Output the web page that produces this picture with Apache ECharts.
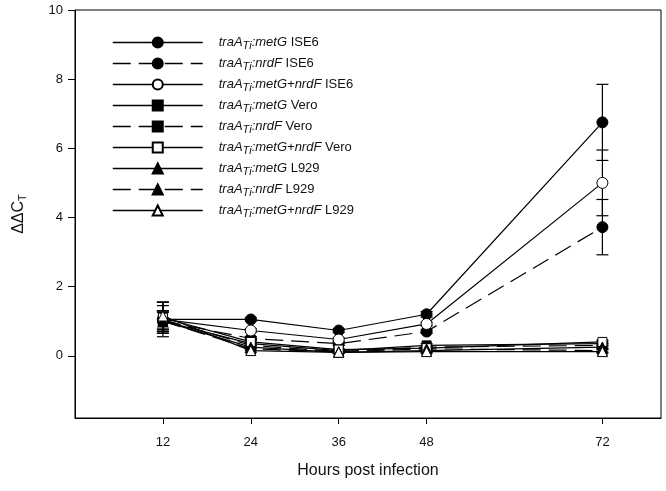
<!DOCTYPE html>
<html><head><meta charset="utf-8">
<script src="https://cdn.jsdelivr.net/npm/echarts@6/dist/echarts.min.js"></script>
<style>html,body{margin:0;padding:0;background:#fff}#c{width:666px;height:491px}</style>
</head><body><div id="c"></div>
<script>
// ---- data ----
const hours = [12, 24, 36, 48, 72];
const xTicks = [12, 24, 36, 48, 72];
const yTicks = [0, 2, 4, 6, 8, 10];
const genes = ['metG', 'nrdF', 'metG+nrdF', 'metG', 'nrdF', 'metG+nrdF', 'metG', 'nrdF', 'metG+nrdF'];
const cells = ['ISE6', 'ISE6', 'ISE6', 'Vero', 'Vero', 'Vero', 'L929', 'L929', 'L929'];

const metgISE6  = [1.05, 1.05, 0.73, 1.20, 6.75];
const nrdfISE6  = [1.00, 0.50, 0.35, 0.70, 3.72];
const comboISE6 = [1.05, 0.73, 0.47, 0.92, 5.00];
const metgVero  = [1.00, 0.35, 0.15, 0.30, 0.35];
const nrdfVero  = [1.05, 0.30, 0.12, 0.25, 0.30];
const comboVero = [1.10, 0.40, 0.18, 0.22, 0.40];
const metgL929  = [1.00, 0.25, 0.10, 0.15, 0.25];
const nrdfL929  = [1.00, 0.20, 0.12, 0.20, 0.15];
const comboL929 = [1.15, 0.15, 0.10, 0.12, 0.12];

const errMetgISE6  = [0.40, 0.05, 0.05, 0.08, 1.10];
const errNrdfISE6  = [0.30, 0.05, 0.05, 0.05, 0.80];
const errComboISE6 = [0.50, 0.05, 0.05, 0.05, 0.95];
const errMetgVero  = [0.30, 0.05, 0.03, 0.05, 0.05];
const errNrdfVero  = [0.25, 0.05, 0.03, 0.05, 0.05];
const errComboVero = [0.45, 0.05, 0.03, 0.05, 0.05];
const errMetgL929  = [0.30, 0.05, 0.03, 0.05, 0.05];
const errNrdfL929  = [0.25, 0.05, 0.03, 0.05, 0.05];
const errComboL929 = [0.40, 0.05, 0.03, 0.05, 0.05];

const values = [metgISE6, nrdfISE6, comboISE6, metgVero, nrdfVero, comboVero, metgL929, nrdfL929, comboL929];
const errors = [errMetgISE6, errNrdfISE6, errComboISE6, errMetgVero, errNrdfVero, errComboVero, errMetgL929, errNrdfL929, errComboL929];

// ---- styles ----
const styles = [
  {symbol: 'circle', fill: true, dash: false, size: 11},
  {symbol: 'circle', fill: true, dash: true, size: 11},
  {symbol: 'circle', fill: false, dash: false, size: 11},
  {symbol: 'rect', fill: true, dash: false, size: 9},
  {symbol: 'rect', fill: true, dash: true, size: 9},
  {symbol: 'rect', fill: false, dash: false, size: 9},
  {symbol: 'triangle', fill: true, dash: false, size: 10},
  {symbol: 'triangle', fill: true, dash: true, size: 10},
  {symbol: 'triangle', fill: false, dash: false, size: 10}
];

const names = genes.map((g, i) => 'traA Ti:' + g + ' ' + cells[i]);
const FONT = '"Liberation Sans", Arial, sans-serif';

const series = [];
values.forEach((vals, i) => {
  const s = styles[i];
  series.push({
    name: names[i],
    type: 'line',
    data: hours.map((h, k) => [h, vals[k]]),
    symbol: s.symbol,
    symbolSize: s.size,
    z: 3,
    lineStyle: {color: '#000', width: 1.2, type: s.dash ? [18, 8] : 'solid'},
    itemStyle: {color: s.fill ? '#000' : '#fff', borderColor: '#000', borderWidth: 1, opacity: 1},
    emphasis: {disabled: true},
    animation: false
  });
});
values.forEach((vals, i) => {
  const errs = errors[i];
  series.push({
    type: 'custom',
    z: 2,
    data: hours.map((h, k) => [h, vals[k] - errs[k], vals[k] + errs[k]]),
    renderItem: (params, api) => {
      const x = api.value(0);
      const p1 = api.coord([x, api.value(1)]);
      const p2 = api.coord([x, api.value(2)]);
      const w = 6;
      const st = {stroke: '#000', lineWidth: 1.2};
      return {type: 'group', children: [
        {type: 'line', shape: {x1: p1[0], y1: p1[1], x2: p2[0], y2: p2[1]}, style: st},
        {type: 'line', shape: {x1: p1[0] - w, y1: p1[1], x2: p1[0] + w, y2: p1[1]}, style: st},
        {type: 'line', shape: {x1: p2[0] - w, y1: p2[1], x2: p2[0] + w, y2: p2[1]}, style: st}
      ]};
    },
    animation: false,
    silent: true
  });
});

const chart = echarts.init(document.getElementById('c'));
chart.setOption({
  backgroundColor: '#fff',
  animation: false,
  grid: {left: 75, right: 5, top: 10, bottom: 73, show: true, borderColor: '#000', borderWidth: 1, backgroundColor: 'transparent'},
  xAxis: {
    type: 'value', min: 0, max: 80,
    name: 'Hours post infection', nameLocation: 'middle', nameGap: 45,
    nameTextStyle: {fontFamily: FONT, fontSize: 16, color: '#111'},
    axisLine: {show: true, onZero: false, lineStyle: {color: '#000', width: 1}},
    axisTick: {show: true, length: 6, lineStyle: {color: '#000'}, customValues: xTicks},
    axisLabel: {fontFamily: FONT, fontSize: 13, color: '#111', margin: 18, customValues: xTicks},
    splitLine: {show: false}
  },
  yAxis: {
    type: 'value', min: -1.8, max: 10,
    name: '{a|ΔΔC}{s|T}', nameLocation: 'middle', nameGap: 47, nameRotate: 90,
    nameTextStyle: {rich: {
      a: {fontFamily: FONT, fontSize: 16, color: '#111'},
      s: {fontFamily: FONT, fontSize: 11, color: '#111', padding: [8, 0, 0, 0]}
    }},
    axisLine: {show: true, onZero: false, lineStyle: {color: '#000', width: 1}},
    axisTick: {show: true, length: 7, lineStyle: {color: '#000'}, customValues: yTicks},
    axisLabel: {fontFamily: FONT, fontSize: 13, color: '#111', margin: 12, customValues: yTicks},
    splitLine: {show: false}
  },
  legend: {
    data: names,
    orient: 'vertical',
    left: 107, top: 31,
    itemWidth: 90, itemHeight: 12.5, itemGap: 5.5,
    selectedMode: false,
    lineStyle: {width: 1.5, color: '#000'},
    formatter: (name) => {
      const i = names.indexOf(name);
      return '{i|traA}{s|Ti}{i|:' + genes[i] + '}{n| ' + cells[i] + '}';
    },
    textStyle: {
      padding: [0, 0, 0, 11],
      rich: {
        i: {fontFamily: FONT, fontSize: 13, fontStyle: 'italic', color: '#111'},
        s: {fontFamily: FONT, fontSize: 11, fontStyle: 'italic', color: '#111', padding: [7, 0, 0, 0]},
        n: {fontFamily: FONT, fontSize: 13, color: '#111'}
      }
    }
  },
  series: series
});
</script></body></html>
